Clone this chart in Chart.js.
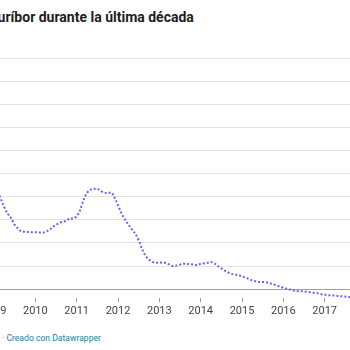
<!doctype html>
<html lang="es">
<head>
  <meta charset="utf-8">
  <title>Euríbor durante la última década</title>
  <script src="https://cdn.jsdelivr.net/npm/chart.js"></script>
  <style>
    html, body { margin: 0; padding: 0; width: 350px; height: 350px; overflow: hidden; background: #fff; }
    body { position: relative; font-family: Roboto, "Noto Sans", sans-serif; }
    #title { position: absolute; left: -10px; top: 8px; font-size: 14px; font-weight: 700; color: #1d1d1d; white-space: nowrap; line-height: 18px; }
    #wrap { position: absolute; left: -26px; top: 0; width: 412px; height: 320px; }
    #footer { position: absolute; left: 2px; top: 332px; font-size: 8.6px; color: #1d81a2; white-space: nowrap; line-height: 12px; }
  </style>
</head>
<body>
  <div id="title">euríbor durante la última década</div>
  <div id="wrap"><canvas id="chart"></canvas></div>
  <div id="footer">· Creado con Datawrapper</div>

  <script>
    // monthly Euríbor (%), Jan 2009 .. Jan 2018
    const startYear = 2009;
    const euribor = [
      2.35, 2.14, 1.95, 1.77, 1.63, 1.53, 1.39, 1.31, 1.25, 1.24, 1.235, 1.23,
      1.23, 1.225, 1.22, 1.24, 1.28, 1.34, 1.39, 1.43, 1.46, 1.48, 1.53, 1.53,
      1.58, 1.71, 1.93, 2.08, 2.15, 2.17, 2.17, 2.12, 2.09, 2.08, 2.09, 1.98,
      1.82, 1.64, 1.51, 1.40, 1.30, 1.20, 1.06, 0.87, 0.72, 0.64, 0.59, 0.57,
      0.57, 0.58, 0.56, 0.53, 0.50, 0.51, 0.53, 0.55, 0.545, 0.54, 0.53, 0.52,
      0.55, 0.56, 0.57, 0.585, 0.56, 0.50, 0.45, 0.40, 0.36, 0.33, 0.315, 0.30,
      0.28, 0.25, 0.22, 0.19, 0.17, 0.155, 0.155, 0.15, 0.13, 0.11, 0.08, 0.06,
      0.03, 0.01, -0.01, -0.03, -0.04, -0.045, -0.05, -0.06, -0.07, -0.08, -0.09, -0.11,
      -0.12, -0.13, -0.135, -0.14, -0.15, -0.155, -0.16, -0.17, -0.18, -0.18, -0.185, -0.19,
      -0.19
    ];
    const yearTicks = [2009, 2010, 2011, 2012, 2013, 2014, 2015, 2016, 2017, 2018];
    const yTicks = [0, 0.5, 1, 1.5, 2, 2.5, 3, 3.5, 4, 4.5, 5];

    const points = euribor.map((v, i) => ({ x: startYear + i / 12, y: v }));

    new Chart(document.getElementById('chart'), {
      type: 'line',
      data: {
        datasets: [{
          data: points,
          borderColor: '#7a5af5',
          borderWidth: 2,
          borderDash: [2, 2],
          pointRadius: 0,
          cubicInterpolationMode: 'monotone',
          fill: false
        }]
      },
      options: {
        responsive: true,
        maintainAspectRatio: false,
        animation: false,
        events: [],
        layout: { padding: { left: 20, right: 20, top: 58, bottom: 0 } },
        plugins: { legend: { display: false }, tooltip: { enabled: false } },
        scales: {
          x: {
            type: 'linear',
            min: 2009,
            max: 2018,
            afterBuildTicks: s => { s.ticks = yearTicks.map(v => ({ value: v })); },
            grid: { display: true, drawOnChartArea: false, drawTicks: true, tickLength: 4, color: '#999' },
            border: { display: false },
            ticks: {
              autoSkip: false,
              maxRotation: 0,
              padding: 2.2,
              color: '#444',
              font: { family: 'Roboto', size: 11, lineHeight: 1.2 },
              callback: v => String(v)
            }
          },
          y: {
            min: -0.2,
            max: 5,
            afterBuildTicks: s => { s.ticks = yTicks.map(v => ({ value: v })); },
            grid: {
              drawTicks: false,
              color: c => c.tick && c.tick.value === 0 ? '#a0a0a0' : '#e3e3e3'
            },
            border: { display: false },
            ticks: { display: false }
          }
        }
      }
    });
  </script>
</body>
</html>
